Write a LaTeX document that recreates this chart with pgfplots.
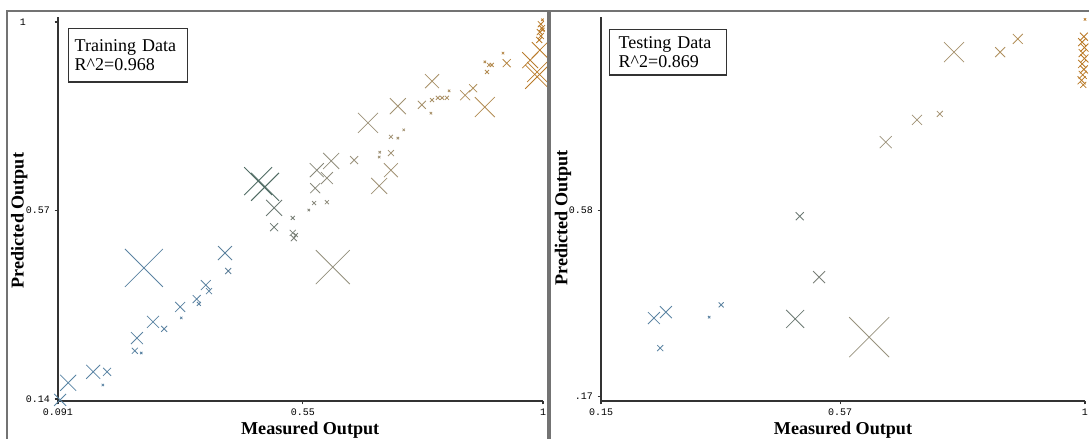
\documentclass[border=0pt]{standalone}
\usepackage{pgfplots}
\pgfplotsset{compat=1.18}
\usepackage{pgfplotstable}
\usepackage{fontspec}
\setmainfont{Liberation Serif}
\newfontfamily\monofont{Liberation Mono}
\definecolor{darkcross}{RGB}{80,108,100}

% training data: x = measured, y = predicted, s = marker half-width (px)
\pgfplotstableread{
x y s
0.095 0.138 6
0.110 0.177 8
0.157 0.202 7
0.183 0.202 4
0.175 0.172 1.2
0.239 0.279 6
0.235 0.250 3
0.247 0.245 1.2
0.269 0.316 6
0.290 0.300 3
0.320 0.350 5
0.322 0.325 1.2
0.351 0.368 4
0.355 0.357 2
0.368 0.400 5
0.374 0.386 3
0.252 0.439 19
0.404 0.473 7
0.410 0.432 3
0.496 0.576 8
0.496 0.532 4
0.531 0.553 2
0.531 0.519 3
0.533 0.507 3
0.537 0.514 2
0.576 0.662 7
0.603 0.683 8
0.595 0.644 6
0.573 0.621 5
0.571 0.587 2
0.595 0.589 2
0.561 0.571 1.2
0.646 0.685 4
0.672 0.770 10
0.728 0.808 8
0.773 0.811 4
0.792 0.822 2
0.790 0.792 1.2
0.803 0.827 2
0.811 0.827 2
0.820 0.827 2
0.824 0.843 1.2
0.792 0.865 7
0.715 0.738 2
0.728 0.735 1.2
0.739 0.754 1.2
0.693 0.692 1.2
0.694 0.703 1.2
0.715 0.701 3
0.715 0.662 7
0.693 0.626 8
0.854 0.833 5
0.869 0.849 4
0.891 0.806 10
0.895 0.886 2
0.899 0.902 2
0.891 0.909 1.2
0.904 0.902 2
0.932 0.906 4
0.925 0.929 1.2
0.976 0.913 8
0.994 0.936 8
0.989 0.886 10
0.989 0.875 12
0.606 0.441 17
0.996 0.995 3
0.998 0.986 3
0.994 0.977 3
0.996 0.968 3
0.999 0.982 2
0.993 0.959 3
0.999 1.005 1.2
}\traintab

% testing data
\pgfplotstableread{
x y s
0.243 0.343 6
0.264 0.356 6
0.254 0.277 3
0.340 0.345 1.2
0.361 0.372 2.5
0.491 0.341 9
0.533 0.433 6
0.499 0.567 4
0.621 0.301 20
0.650 0.730 6
0.705 0.779 5
0.745 0.792 3
0.770 0.928 10
0.851 0.928 5
0.882 0.957 5
0.998 0.962 4
0.995 0.950 4
0.999 0.938 4
0.996 0.926 4
0.999 0.914 4
0.995 0.902 4
0.998 0.890 4
0.996 0.878 4
0.994 0.866 4
0.997 0.856 3
1.000 1.000 1.2
}\testtab

\pgfplotsset{
  panel/.style={
    scale only axis, height=288pt,
    axis lines=left, axis line style={-, line width=1pt, black!80},
    tick align=outside, major tick length=2.5pt,
    tick style={black!80, line width=0.8pt},
    tick label style={font=\monofont\fontsize{7.5}{8}\selectfont, black},
    /pgf/number format/assume math mode=true,
    label style={font=\bfseries\fontsize{13.6}{16}\selectfont},
    clip=false,
    colormap={cm}{rgb255(9cm)=(110,165,205); rgb255(40cm)=(115,162,200);
      rgb255(46cm)=(120,145,140); rgb255(53cm)=(150,158,148);
      rgb255(62cm)=(190,182,158); rgb255(75cm)=(205,182,140);
      rgb255(88cm)=(222,178,110); rgb255(100cm)=(232,150,45)},
    point meta min=0.09, point meta max=1,
  },
  crosses/.style={scatter, only marks, mark=x, point meta=\thisrow{x},
    visualization depends on={1.06*\thisrow{s} \as \msize},
    scatter/@pre marker code/.append style={/tikz/mark size=\msize pt},
    mark options={line width=0.6pt}},
}

\begin{document}
\begin{tikzpicture}
\useasboundingbox (0,0) rectangle (816.75pt,329.25pt);

% ---------- Training ----------
\begin{axis}[panel, at={(43.5pt,28.5pt)}, anchor=south west, width=363.75pt,
  xmin=0.091, xmax=1.0, ymin=0.1355, ymax=1.0114,
  xtick={0.091,0.55,1}, xticklabels={0.091,0.55,1},
  ytick={0.14,0.57,1}, yticklabels={0.14,0.57,1\hspace*{18pt}},
  xlabel={Measured Output}, ylabel={Predicted Output},
  xlabel style={at={(axis description cs:0.52,0)}, anchor=base, yshift=-25.5pt},
  ylabel style={at={(axis description cs:0,0.47)}, anchor=center, yshift=29pt},
]
\addplot[crosses] table[x=x, y=y] {\traintab};
\addplot[only marks, mark=x, mark size=14.8pt, color=darkcross, mark options={line width=0.7pt}]
  coordinates {(0.466,0.637) (0.479,0.624)};
\node[draw=black!80, line width=1pt, anchor=north west, align=left, text width=80pt,
  inner xsep=4.5pt, minimum height=40pt, font=\fontsize{13.5}{14.25}\selectfont]
  at (axis description cs:0.0206,0.971) {Training Data\\R\textasciicircum 2=0.968};
\end{axis}

% ---------- Testing ----------
\begin{axis}[panel, at={(450.75pt,28.5pt)}, anchor=south west, width=363pt,
  xmin=0.15, xmax=1.0, ymin=0.1605, ymax=1.0053,
  xtick={0.15,0.57,1}, xticklabels={0.15,0.57,1},
  ytick={0.17,0.58}, yticklabels={.17,0.58},
  xlabel={Measured Output}, ylabel={Predicted Output},
  xlabel style={at={(axis description cs:0.5,0)}, anchor=base, yshift=-25.5pt},
  ylabel style={at={(axis description cs:0,0.477)}, anchor=center, yshift=28.5pt},
]
\addplot[crosses] table[x=x, y=y] {\testtab};
\node[draw=black!80, line width=1pt, anchor=north west, align=left, text width=74pt,
  inner xsep=6.75pt, minimum height=34pt, font=\fontsize{13.5}{14.25}\selectfont]
  at (axis description cs:0.0165,0.969) {Testing Data\\R\textasciicircum 2=0.869};
\end{axis}

% panel frames
\draw[black!55, line width=1pt] (5.25pt,-2pt) -- (5.25pt,321pt) -- (411pt,321pt) -- (411pt,-2pt);
\draw[black!55, line width=1pt] (412.5pt,-2pt) -- (412.5pt,321pt) -- (818pt,321pt);
\end{tikzpicture}
\end{document}
